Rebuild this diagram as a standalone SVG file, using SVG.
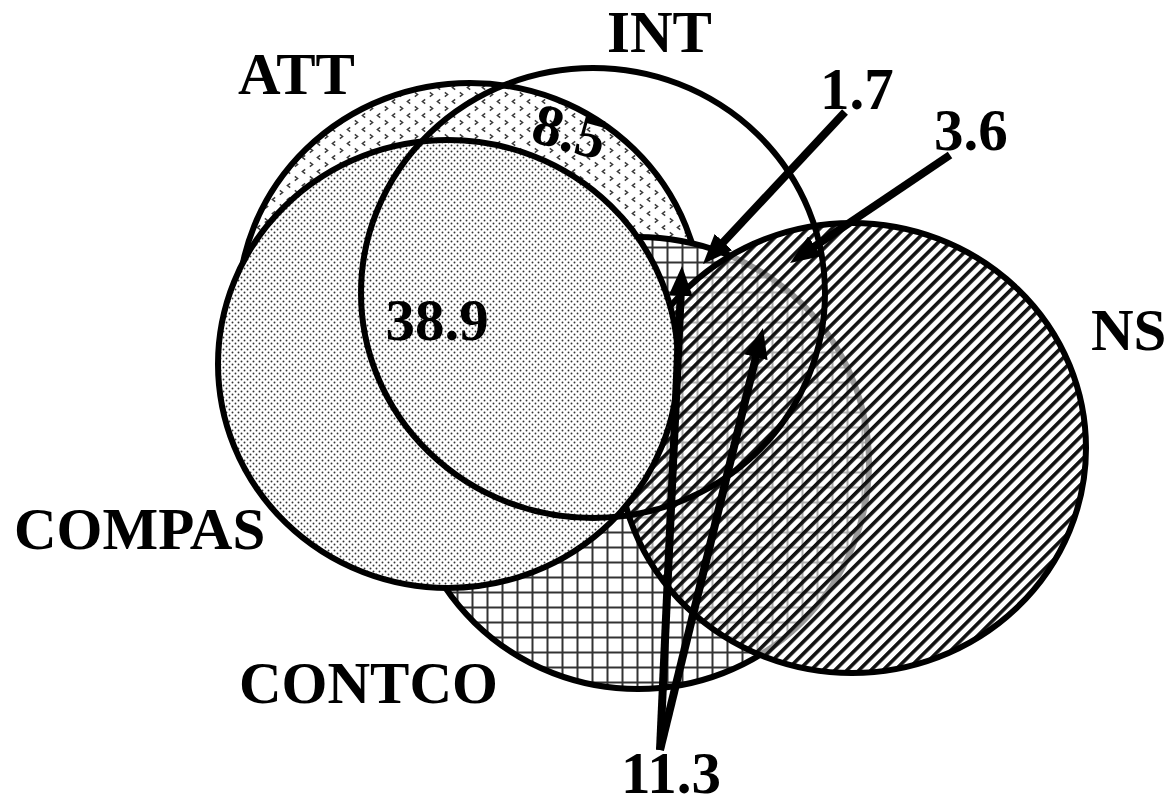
<svg xmlns="http://www.w3.org/2000/svg" width="1170" height="806" viewBox="0 0 1170 806">
  <style>
    .lbl { font-family: "Liberation Serif", "Times New Roman", serif; font-weight: bold; font-size: 59px; fill: #000; }
    .edge { fill: none; stroke: #000; stroke-width: 6; }
    .arrow { fill: none; stroke: #000; stroke-width: 8; marker-end: url(#head); }
  </style>
  <defs>
    <!-- small chevron marks -->
    <pattern id="chev" patternUnits="userSpaceOnUse" width="15" height="14">
      <rect width="15" height="14" fill="#fff"/>
      <path d="M5.2,1.3 L2.4,3.5 L5.2,5.7" fill="none" stroke="#3a3a3a" stroke-width="1.5"/>
      <path d="M9.8,8.3 L12.6,10.5 L9.8,12.7" fill="none" stroke="#3a3a3a" stroke-width="1.5"/>
    </pattern>
    <!-- fine staggered dots -->
    <pattern id="dots" patternUnits="userSpaceOnUse" width="6" height="6">
      <rect width="6" height="6" fill="#fff"/>
      <circle cx="1.5" cy="1.5" r="0.95" fill="#333"/>
      <circle cx="4.5" cy="4.5" r="0.95" fill="#333"/>
    </pattern>
    <!-- square grid -->
    <pattern id="grid" patternUnits="userSpaceOnUse" width="15" height="15">
      <rect width="15" height="15" fill="#fff"/>
      <path d="M7.5,0 V15 M0,7.5 H15" stroke="#333" stroke-width="2"/>
    </pattern>
    <!-- diagonal hatch, transparent between the strokes -->
    <pattern id="hatch" patternUnits="userSpaceOnUse" width="8.5" height="8.5" patternTransform="rotate(45)">
      <rect x="0" y="0" width="3.6" height="8.5" fill="#111"/>
    </pattern>
    <marker id="head" markerUnits="userSpaceOnUse" viewBox="0 0 30 24" refX="14" refY="12" markerWidth="30" markerHeight="24" orient="auto">
      <path d="M0,0 L30,12 L0,24 z" fill="#000"/>
    </marker>
  </defs>

  <g id="att">
    <ellipse cx="470" cy="309" rx="232" ry="226" fill="url(#chev)"/>
    <ellipse class="edge" cx="470" cy="309" rx="232" ry="226"/>
  </g>

  <g id="contco">
    <ellipse cx="638" cy="463" rx="231" ry="226" fill="url(#grid)"/>
    <ellipse class="edge" cx="638" cy="463" rx="231" ry="226"/>
  </g>

  <g id="ns">
    <ellipse cx="852" cy="448" rx="234" ry="225" fill="#fff" fill-opacity="0.6"/>
    <ellipse cx="852" cy="448" rx="234" ry="225" fill="url(#hatch)"/>
    <ellipse class="edge" cx="852" cy="448" rx="234" ry="225"/>
  </g>

  <g id="compas">
    <ellipse cx="448" cy="364" rx="230" ry="224" fill="url(#dots)"/>
    <ellipse class="edge" cx="448" cy="364" rx="230" ry="224" stroke-width="7"/>
  </g>

  <g id="int">
    <ellipse class="edge" cx="593" cy="293" rx="232" ry="225"/>
  </g>

  <!-- shafts stop 16px short of each tip; the marker supplies the point -->
  <g id="connectors">
    <line class="arrow" x1="845" y1="112" x2="713.9" y2="252.3"/>
    <line class="arrow" x1="950" y1="155" x2="803.3" y2="254.0"/>
    <line class="arrow" x1="660" y1="750" x2="681.3" y2="282"/>
    <line class="arrow" x1="660" y1="750" x2="759.2" y2="343.6"/>
  </g>

  <g id="labels">
    <text class="lbl" x="238" y="94">ATT</text>
    <text class="lbl" x="607" y="52">INT</text>
    <text class="lbl" x="1091" y="350">NS</text>
    <text class="lbl" x="14" y="549">COMPAS</text>
    <text class="lbl" x="239" y="703">CONTCO</text>
    <text class="lbl" x="437" y="340" text-anchor="middle">38.9</text>
    <text class="lbl" x="568" y="151" text-anchor="middle" transform="rotate(15 568 138)">8.5</text>
    <text class="lbl" x="820" y="109">1.7</text>
    <text class="lbl" x="934" y="150">3.6</text>
    <text class="lbl" x="621" y="793">11.3</text>
  </g>
</svg>
